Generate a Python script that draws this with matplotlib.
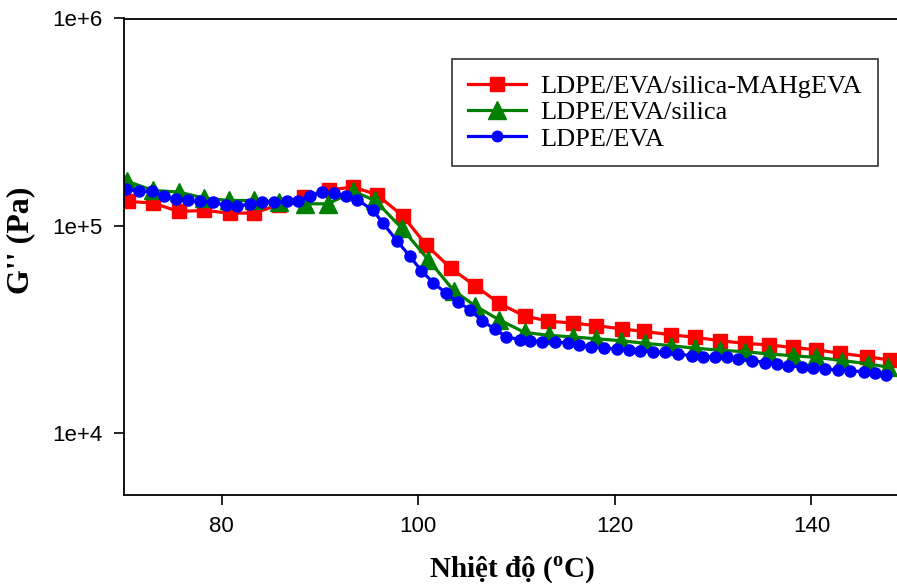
import matplotlib
matplotlib.use("Agg")
import matplotlib.pyplot as plt
from matplotlib.ticker import FixedLocator, FixedFormatter, NullLocator

plt.rcParams['mathtext.fontset'] = 'custom'
plt.rcParams['mathtext.rm'] = 'Liberation Serif:bold'
plt.rcParams['mathtext.bf'] = 'Liberation Serif:bold'

# LDPE/EVA/silica-MAHgEVA
temp_mah = [70.5, 73.0, 75.6, 78.2, 80.8, 83.3, 85.8, 88.4, 90.9, 93.4, 95.8, 98.4,
            100.8, 103.3, 105.8, 108.2, 110.8, 113.2, 115.7, 118.1, 120.7, 123.0,
            125.7, 128.1, 130.7, 133.2, 135.7, 138.1, 140.5, 142.9, 145.6, 148.0]
g_mah = [130800, 128500, 117000, 118300, 114900, 114900, 126100, 137800, 148900,
         153500, 140900, 111500, 80700, 62200, 51100, 42200, 36600, 34600, 33800,
         32900, 31700, 30800, 29700, 28900, 27800, 27000, 26500, 25800, 25100,
         24200, 23300, 22400]

# LDPE/EVA/silica
temp_sil = [70.4, 73.0, 75.6, 78.2, 80.7, 83.3, 85.8, 88.5, 90.8, 93.4, 95.6, 98.3,
            101.0, 103.6, 105.8, 108.2, 110.8, 113.3, 115.7, 118.1, 120.6, 123.1,
            125.7, 128.1, 130.7, 133.2, 135.7, 138.1, 140.5, 143.1, 145.8, 147.8]
g_sil = [163400, 147800, 145200, 135800, 132200, 132200, 129900, 127400, 127400,
         146200, 132200, 97300, 68500, 48500, 40900, 35100, 30500, 29500, 29000,
         28400, 27800, 27000, 26300, 25600, 25000, 24600, 24000, 23500, 23100,
         22300, 21500, 20700]

# LDPE/EVA
temp_eva = [70.3, 71.6, 72.9, 74.1, 75.3, 76.6, 77.8, 79.1, 80.4, 81.5, 82.9, 84.1,
            85.3, 86.6, 87.8, 89.0, 90.2, 91.4, 92.6, 93.8, 95.4, 96.4, 97.8, 99.1,
            100.3, 101.5, 102.8, 104.0, 105.3, 106.5, 107.8, 108.9, 110.3, 111.4,
            112.6, 113.9, 115.2, 116.3, 117.6, 118.9, 120.2, 121.4, 122.6, 123.9,
            125.1, 126.4, 127.8, 129.0, 130.2, 131.4, 132.5, 133.9, 135.3, 136.5,
            137.6, 139.0, 140.2, 141.4, 142.7, 143.9, 145.3, 146.5, 147.6]
g_eva = [150600, 146200, 146200, 138300, 134900, 132200, 130800, 129900, 125100,
         123700, 127400, 129400, 129400, 130800, 131800, 139400, 144600, 143600,
         138300, 133300, 118300, 102800, 84700, 71400, 60600, 53100, 47200, 42700,
         39200, 34600, 31600, 29100, 28100, 27800, 27500, 27400, 27100, 26500,
         26000, 25600, 25300, 25100, 24900, 24600, 24400, 24000, 23500, 23300,
         23300, 23100, 22700, 22300, 21800, 21500, 21000, 20800, 20600, 20300,
         20100, 19900, 19700, 19500, 19000]

labels = ["LDPE/EVA/silica-MAHgEVA", "LDPE/EVA/silica", "LDPE/EVA"]
y_ticks = [1e4, 1e5, 1e6]
y_tick_labels = ["1e+4", "1e+5", "1e+6"]
x_ticks = [80, 100, 120, 140]

fig = plt.figure(figsize=(8.97, 5.86), dpi=100)
ax = fig.add_axes([123.5 / 897, 91 / 586, 1 - 123.5 / 897, 476.5 / 586])

ax.plot(temp_mah, g_mah, '-s', color='#ff0000', lw=2.3, ms=10, label=labels[0])
ax.plot(temp_sil, g_sil, '-^', color='#008000', lw=2.3, ms=13, label=labels[1])
ax.plot(temp_eva, g_eva, '-o', color='#0000ff', lw=2.3, ms=8, label=labels[2])

ax.set_yscale('log')
ax.set_ylim(5000, 1e6)
ax.set_xlim(70, 148.7)
ax.yaxis.set_major_locator(FixedLocator(y_ticks))
ax.yaxis.set_major_formatter(FixedFormatter(y_tick_labels))
ax.yaxis.set_minor_locator(NullLocator())
ax.set_xticks(x_ticks)

ax.spines['right'].set_visible(False)
for s in ['left', 'top', 'bottom']:
    ax.spines[s].set_linewidth(1.3)
ax.tick_params(direction='out', length=7, width=1.2, labelsize=16, pad=8)
for t in ax.get_xticklabels() + ax.get_yticklabels():
    t.set_family('Liberation Sans')

ax.set_xlabel(r"Nhiệt độ ($^{\mathbf{o}}$C)", fontsize=21, fontweight='bold',
              family='Liberation Serif', va='top')
ax.xaxis.set_label_coords(0.502, (495 - 555) / 476.5)
ax.set_ylabel("G'' (Pa)", fontsize=23, fontweight='bold', family='Liberation Serif')
ax.yaxis.set_label_coords((35 - 123.5) / 773.5, (495 - 240) / 476.5)

leg = ax.legend(loc='upper right', prop={'family': 'Liberation Serif', 'size': 19},
                frameon=True, fancybox=False, edgecolor='black', handlelength=2.2,
                handletextpad=0.55, borderpad=0.6, labelspacing=0.1,
                borderaxespad=0, markerscale=0.95)
leg.set_bbox_to_anchor((878 / 897, 1 - 59 / 586), transform=fig.transFigure)
leg.get_frame().set_linewidth(1.2)

fig.savefig("out.png", dpi=100)
